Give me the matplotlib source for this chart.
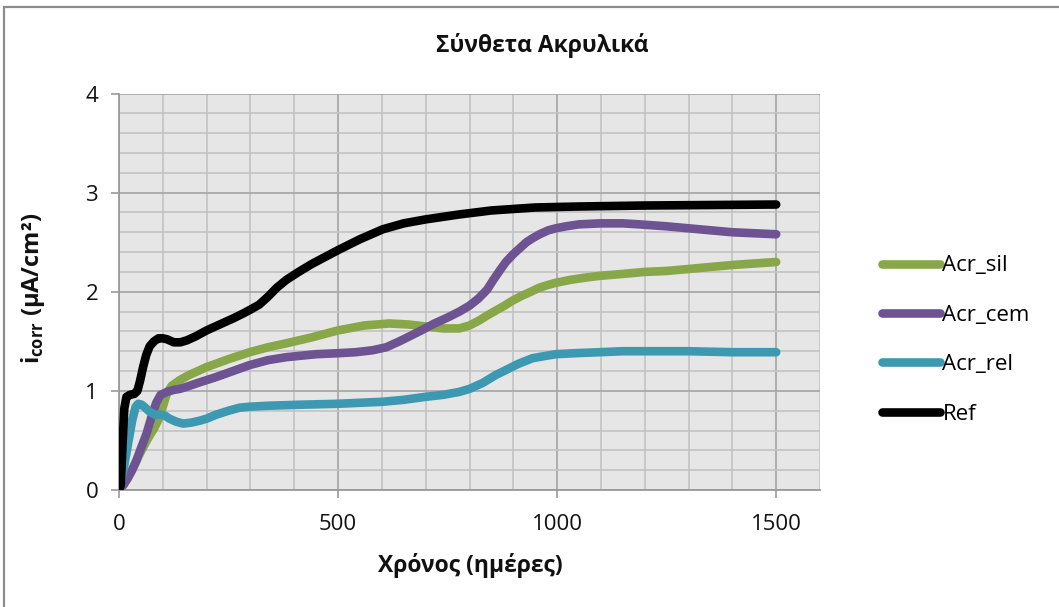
import matplotlib
matplotlib.use("Agg")
import matplotlib.pyplot as plt
from matplotlib.ticker import MultipleLocator
from matplotlib.patches import Rectangle

plt.rcParams['font.family'] = ['Open Sans', 'DejaVu Sans']
plt.rcParams['mathtext.fontset'] = 'custom'
plt.rcParams['mathtext.rm'] = 'Open Sans'
plt.rcParams['mathtext.bf'] = 'Open Sans:bold'

# Corrosion current density over time (days, µA/cm²)
t_sil = [0, 10, 20, 35, 48, 60, 70, 80, 90, 100, 109, 120, 139, 160, 200, 250,
         298, 340, 382, 440, 500, 560, 617, 660, 700, 740, 777, 800, 822, 840,
         860, 880, 898, 920, 940, 959, 980, 997, 1030, 1060, 1096, 1150, 1200,
         1250, 1301, 1350, 1400, 1450, 1500]
acr_sil = [0, 0.05, 0.12, 0.25, 0.37, 0.47, 0.55, 0.62, 0.71, 0.84, 0.97, 1.05,
           1.11, 1.16, 1.24, 1.32, 1.39, 1.44, 1.48, 1.54, 1.61, 1.66, 1.68,
           1.67, 1.65, 1.63, 1.63, 1.66, 1.71, 1.76, 1.81, 1.86, 1.91, 1.96,
           2.00, 2.04, 2.07, 2.09, 2.12, 2.14, 2.16, 2.18, 2.20, 2.21, 2.23,
           2.25, 2.27, 2.285, 2.30]

t_cem = [0, 10, 20, 30, 40, 50, 63, 75, 85, 95, 110, 125, 139, 160, 180, 222,
         260, 298, 340, 382, 450, 500, 540, 579, 610, 640, 663, 690, 720, 750,
         777, 800, 820, 840, 853, 870, 883, 900, 915, 930, 944, 960, 980, 997,
         1020, 1050, 1100, 1150, 1187, 1250, 1300, 1350, 1400, 1450, 1500]
acr_cem = [0, 0.05, 0.12, 0.20, 0.30, 0.42, 0.57, 0.75, 0.88, 0.96, 0.99, 1.01,
           1.02, 1.05, 1.08, 1.14, 1.20, 1.26, 1.31, 1.34, 1.37, 1.38, 1.39,
           1.41, 1.44, 1.50, 1.55, 1.61, 1.68, 1.74, 1.80, 1.86, 1.93, 2.02,
           2.11, 2.22, 2.30, 2.38, 2.44, 2.50, 2.54, 2.58, 2.62, 2.64, 2.66,
           2.68, 2.69, 2.69, 2.68, 2.66, 2.64, 2.62, 2.60, 2.59, 2.58]

t_rel = [0, 10, 20, 30, 38, 44, 52, 60, 70, 82, 95, 105, 115, 130, 146, 165,
         185, 200, 222, 250, 275, 298, 340, 412, 500, 602, 650, 700, 740, 777,
         800, 830, 860, 883, 910, 944, 970, 997, 1040, 1096, 1150, 1187, 1250,
         1300, 1350, 1400, 1450, 1500]
acr_rel = [0, 0.20, 0.45, 0.70, 0.84, 0.87, 0.86, 0.83, 0.79, 0.76, 0.76, 0.75,
           0.72, 0.69, 0.67, 0.68, 0.70, 0.72, 0.76, 0.80, 0.83, 0.84, 0.85,
           0.86, 0.87, 0.89, 0.91, 0.94, 0.96, 0.99, 1.02, 1.08, 1.16, 1.21,
           1.27, 1.33, 1.35, 1.37, 1.38, 1.39, 1.40, 1.40, 1.40, 1.40, 1.395,
           1.39, 1.39, 1.39]

t_ref = [0, 4, 8, 12, 17, 25, 35, 42, 48, 55, 62, 70, 80, 90, 100, 110, 125,
         140, 155, 175, 200, 230, 260, 283, 300, 320, 340, 360, 382, 410, 440,
         470, 500, 550, 602, 650, 700, 777, 850, 950, 1050, 1200, 1350, 1500]
ref = [0, 0.05, 0.45, 0.82, 0.94, 0.96, 0.97, 1.00, 1.10, 1.24, 1.36, 1.45,
       1.50, 1.53, 1.53, 1.52, 1.49, 1.49, 1.51, 1.55, 1.61, 1.67, 1.73, 1.78,
       1.82, 1.87, 1.95, 2.04, 2.12, 2.20, 2.28, 2.35, 2.42, 2.53, 2.63, 2.69,
       2.73, 2.78, 2.82, 2.85, 2.86, 2.87, 2.875, 2.88]

series = [
    ("Acr_sil", t_sil, acr_sil, "#88a748"),
    ("Acr_cem", t_cem, acr_cem, "#6d5392"),
    ("Acr_rel", t_rel, acr_rel, "#3d98b1"),
    ("Ref", t_ref, ref, "#000000"),
]

title = "Σύνθετα Ακρυλικά"
xlabel = "Χρόνος (ημέρες)"
ylabel = r"$\mathbf{i}_{\mathbf{corr}}$" + " (μA/cm²)"
x_ticks = [0, 500, 1000, 1500]
y_ticks = [0, 1, 2, 3, 4]

W, H = 1059, 607
fig = plt.figure(figsize=(W / 100, H / 100), dpi=100)

# chart frame
fig.patches.append(Rectangle((4 / W, -0.1), 1.2, 1.1 - 7 / H, transform=fig.transFigure,
                             facecolor="white", edgecolor="#8c8c8c", linewidth=1.6,
                             zorder=-10))

ax = fig.add_axes([119 / W, 1 - 490 / H, (820 - 119) / W, (490 - 93.5) / H])
ax.set_facecolor("#e6e6e6")

handles = []
for name, t, v, c in series:
    ln, = ax.plot(t, v, color=c, linewidth=6.2, solid_capstyle="round",
                  solid_joinstyle="round", label=name, zorder=3)
    handles.append(ln)

ax.set_xlim(0, 1600)
ax.set_ylim(0, 4)
ax.set_xticks(x_ticks)
ax.set_yticks(y_ticks)
ax.xaxis.set_minor_locator(MultipleLocator(100))
ax.yaxis.set_minor_locator(MultipleLocator(0.2))
ax.grid(which="minor", color="#c3c3c3", linewidth=1.2, zorder=1)
ax.grid(which="major", color="#a8a8a8", linewidth=1.3, zorder=1)
ax.set_axisbelow(True)
for s in ["top", "right"]:
    ax.spines[s].set_visible(False)
for s in ["left", "bottom"]:
    ax.spines[s].set_color("#9a9a9a")
    ax.spines[s].set_linewidth(1.3)
ax.tick_params(which="major", direction="out", length=6, width=1.2, color="#9a9a9a",
               labelsize=16, labelcolor="#111111")
ax.tick_params(axis="x", pad=11)
ax.tick_params(axis="y", pad=9)
ax.tick_params(which="minor", length=0)

fig.text(542 / W, 1 - 46 / H, title, ha="center", va="center",
         fontsize=16.5, fontweight="bold", color="#111111")
fig.text(470 / W, 1 - 566 / H, xlabel, ha="center", va="center",
         fontsize=16.5, fontweight="bold", color="#111111")
fig.text(33 / W, 1 - 288 / H, ylabel, ha="center", va="center", rotation=90,
         fontsize=17, fontweight="bold", color="#111111")

fig.legend(handles=handles, loc="center left", bbox_to_anchor=(882 / W, 1 - 340 / H),
           frameon=False, fontsize=16, handlelength=2.6, handletextpad=0.12,
           labelspacing=1.28, borderpad=0, borderaxespad=0)

fig.savefig("out.png", dpi=100)
